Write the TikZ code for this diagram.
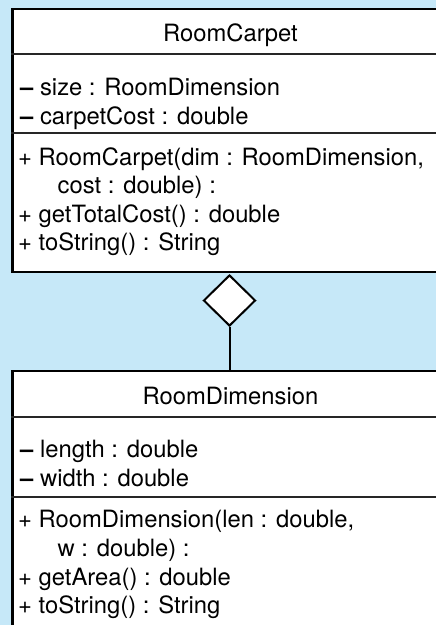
\documentclass[tikz,border=0pt]{standalone}
\usepackage{fontspec}
\setmainfont{TeX Gyre Heros}
\usetikzlibrary{shapes.geometric}
\definecolor{bg}{HTML}{C6E8F8}
\begin{document}
\begin{tikzpicture}[x=1pt,y=-1pt,
  classbox/.style={draw, line width=2.2pt, fill=white, minimum width=434pt, inner sep=0pt, anchor=north},
  sepline/.style={line width=1.8pt, black!85},
  txt/.style={anchor=base west, inner sep=0pt, font=\fontsize{23.8}{28}\selectfont},
  ctitle/.style={anchor=base, inner sep=0pt, font=\fontsize{23.8}{28}\selectfont},
  agg/.style={diamond, draw, fill=white, line width=2pt, minimum width=52pt, minimum height=51pt, inner sep=0pt},
  conn/.style={line width=2pt}]
\useasboundingbox (0,0) rectangle (436,625);
\fill[bg] (0,0) rectangle (436,625);
\clip (0,0) rectangle (436,625);
% RoomCarpet
\node[classbox, minimum height=263pt] (carpet) at (229.5,8) {};
\draw[sepline] (carpet.west |- 0,54) -- (carpet.east |- 0,54);
\draw[sepline] (carpet.west |- 0,133) -- (carpet.east |- 0,133);
\node[ctitle] (ct) at (230.5,41.7) {RoomCarpet};
\node[txt] (ca1) at (20,95.5) {\textbf{–} size : RoomDimension};
\node[txt] (ca2) at (20,124) {\textbf{–} carpetCost : double};
\node[txt] (cm1) at (18,165) {+ RoomCarpet(dim : RoomDimension,};
\node[txt] (cm1b) at (57.5,193.5) {cost : double) :};
\node[txt] (cm2) at (18,222) {+ getTotalCost() : double};
\node[txt] (cm3) at (18,250.5) {+ toString() : String};
% aggregation
\node[agg] (dia) at (229.5,300.5) {};
% RoomDimension
\node[classbox, minimum height=280pt] (dim) at (229.5,370) {};
\draw[sepline] (dim.west |- 0,417) -- (dim.east |- 0,417);
\draw[sepline] (dim.west |- 0,497) -- (dim.east |- 0,497);
\node[ctitle] (dt) at (230.5,404) {RoomDimension};
\node[txt] (da1) at (20,457.5) {\textbf{–} length : double};
\node[txt] (da2) at (20,486.5) {\textbf{–} width : double};
\node[txt] (dm1) at (18,527) {+ RoomDimension(len : double,};
\node[txt] (dm1b) at (57.5,556.5) {w : double) :};
\node[txt] (dm2) at (18,585) {+ getArea() : double};
\node[txt] (dm3) at (18,613.5) {+ toString() : String};
\draw[conn] (dia.south) -- (dim.north);
\end{tikzpicture}
\end{document}
